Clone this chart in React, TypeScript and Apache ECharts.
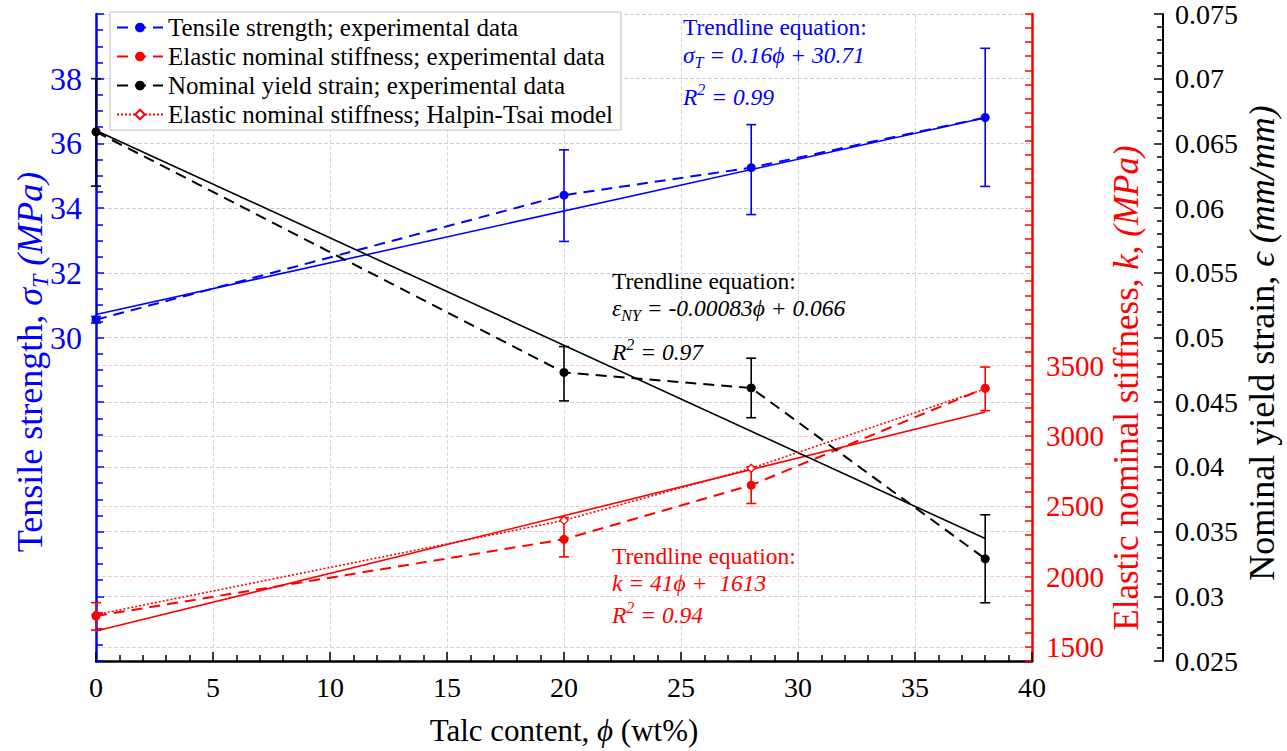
import React, { useEffect, useRef } from "react";
import * as echarts from "echarts";

const FONT = "'Liberation Serif', 'Times New Roman', serif";
const BLUE = "#0000ff";
const RED = "#ff0000";
const BLACK = "#000000";

// ---- data ----
const talc = [0, 20, 28, 38];
const tensileMean = [30.55, 34.4, 35.25, 36.8];
const tensileLow = [30.45, 32.97, 33.8, 34.67];
const tensileHigh = [30.65, 35.8, 36.58, 38.94];
const stiffMean = [1720, 2265, 2650, 3340];
const stiffLow = [1620, 2140, 2520, 3180];
const stiffHigh = [1815, 2420, 2780, 3490];
const strainMean = [0.0659, 0.0473, 0.0461, 0.0329];
const strainLow = [0.0617, 0.0451, 0.0438, 0.0295];
const strainHigh = [0.07, 0.0493, 0.0484, 0.0363];
const halpinTsai = [1730, 2400, 2770, 3335];
const trendX = [0, 38];
const tensileTrend = [30.71, 36.79];
const stiffTrend = [1613, 3171];
const strainTrend = [0.066, 0.03446];
const legendNames = [
  "Tensile strength; experimental data",
  "Elastic nominal stiffness; experimental data",
  "Nominal yield strain; experimental data",
  "Elastic nominal stiffness; Halpin-Tsai model",
];

const pairs = (xs: number[], ys: number[]) => xs.map((x, i) => [x, ys[i]]);
const triples = (xs: number[], lo: number[], hi: number[]) => xs.map((x, i) => [x, lo[i], hi[i]]);

function errRender(color: string) {
  return (params: any, api: any) => {
    const x = api.value(0);
    const a = api.coord([x, api.value(1)]);
    const b = api.coord([x, api.value(2)]);
    const w = 5;
    const style = { stroke: color, lineWidth: 1.6 };
    return {
      type: "group",
      children: [
        { type: "line", shape: { x1: a[0], y1: a[1], x2: b[0], y2: b[1] }, style },
        { type: "line", shape: { x1: a[0] - w, y1: a[1], x2: a[0] + w, y2: a[1] }, style },
        { type: "line", shape: { x1: b[0] - w, y1: b[1], x2: b[0] + w, y2: b[1] }, style },
      ],
    };
  };
}

function richSet(color: string, size: number) {
  return {
    n: { fontFamily: FONT, fontSize: size, color, lineHeight: size + 8 },
    i: { fontFamily: FONT, fontSize: size, color, fontStyle: "italic", lineHeight: size + 8 },
    s: { fontFamily: FONT, fontSize: Math.round(size * 0.68), color, fontStyle: "italic", verticalAlign: "bottom", lineHeight: size + 2 },
    p: { fontFamily: FONT, fontSize: Math.round(size * 0.68), color, fontStyle: "italic", verticalAlign: "top", lineHeight: size + 8 },
  };
}

function txt(x: number, y: number, text: string, color: string, size: number, rotate = false) {
  return {
    type: "text",
    x,
    y,
    rotation: rotate ? Math.PI / 2 : 0,
    z: 100,
    style: {
      text,
      rich: richSet(color, size),
      fill: color,
      fontFamily: FONT,
      fontSize: size,
      align: rotate ? "center" : "left",
      verticalAlign: "middle",
      textAlign: rotate ? "center" : "left",
      textVerticalAlign: "middle",
    },
  };
}

const TICK_FS = 28;

export default function App() {
  const ref = useRef<HTMLDivElement>(null);
  useEffect(() => {
    if (!ref.current) return;
    const chart = echarts.init(ref.current, null, { renderer: "svg" });
    const redGridColors = Array.from({ length: 47 }, (_, i) => {
      const v = 1400 + i * 100;
      return v % 500 === 0 && v >= 1500 && v <= 3500 ? "#f6caca" : "rgba(0,0,0,0)";
    });
    const blackGridColors = Array.from({ length: 11 }, (_, i) => (i >= 5 ? "#c9c9ec" : "#d4d4d4"));
    const option: any = {
      animation: false,
      backgroundColor: "#fff",
      textStyle: { fontFamily: FONT },
      grid: { left: 96, right: 255, top: 11, bottom: 80, containLabel: false },
      legend: {
        data: legendNames,
        orient: "vertical",
        left: 110,
        top: 12,
        itemGap: 4,
        itemWidth: 46,
        itemHeight: 12,
        padding: [3, 8, 3, 6],
        borderColor: "#c0c0c0",
        borderWidth: 1,
        backgroundColor: "#fff",
        textStyle: { fontFamily: FONT, fontSize: 25, color: "#000" },
        z: 50,
      },
      xAxis: {
        type: "value",
        min: 0,
        max: 40,
        interval: 5,
        name: "{n|Talc content, }{i|ϕ}{n| (wt%)}",
        nameLocation: "middle",
        nameGap: 50,
        nameTextStyle: { rich: richSet(BLACK, 31) },
        axisLine: { show: true, onZero: false, lineStyle: { color: BLACK, width: 2.5 } },
        axisTick: { inside: true, length: 9, lineStyle: { color: BLACK, width: 1.5 } },
        minorTick: { show: true, splitNumber: 5, length: 6, lineStyle: { color: BLACK, width: 1.5 } },
        axisLabel: { fontFamily: FONT, fontSize: TICK_FS, color: BLACK, margin: 12 },
        splitLine: { show: true, lineStyle: { color: "#d8d8d8", type: "dashed", width: 1 } },
      },
      yAxis: [
        {
          type: "value",
          position: "left",
          min: 20,
          max: 40,
          interval: 2,
          axisLine: { show: true, lineStyle: { color: BLUE, width: 2.5 } },
          axisTick: { inside: true, length: 8, lineStyle: { color: BLUE, width: 1.5 } },
          minorTick: { show: true, splitNumber: 4, length: 7, lineStyle: { color: BLUE, width: 1.5 } },
          axisLabel: {
            fontFamily: FONT,
            fontSize: 32,
            color: BLUE,
            margin: 14,
            formatter: (v: number) => (v >= 30 && v <= 38 ? String(v) : ""),
          },
          splitLine: { show: false },
        },
        {
          type: "value",
          position: "right",
          min: 1400,
          max: 6000,
          interval: 100,
          axisLine: { show: true, lineStyle: { color: RED, width: 2.5 } },
          axisTick: { inside: true, length: 7, lineStyle: { color: RED, width: 1.5 } },
          axisLabel: {
            fontFamily: FONT,
            fontSize: 29,
            color: RED,
            margin: 14,
            formatter: (v: number) => (v % 500 === 0 && v >= 1500 && v <= 3500 ? String(v) : ""),
          },
          splitLine: { show: true, lineStyle: { color: redGridColors, type: "dashed", width: 1 } },
        },
        {
          type: "value",
          position: "right",
          offset: 131,
          min: 0.025,
          max: 0.075,
          interval: 0.005,
          axisLine: { show: true, lineStyle: { color: BLACK, width: 2 } },
          axisTick: { inside: true, length: 9, lineStyle: { color: BLACK, width: 1.5 } },
          minorTick: { show: true, splitNumber: 5, length: 6, lineStyle: { color: BLACK, width: 1.5 } },
          axisLabel: {
            fontFamily: FONT,
            fontSize: TICK_FS,
            color: BLACK,
            margin: 12,
            formatter: (v: number) => String(Number(v.toFixed(3))),
          },
          splitLine: { show: true, lineStyle: { color: blackGridColors, type: "dashed", width: 1 } },
        },
      ],
      series: [
        // error bars
        { type: "custom", yAxisIndex: 0, silent: true, z: 2, renderItem: errRender(BLUE), encode: { x: 0, y: [1, 2] }, data: triples(talc, tensileLow, tensileHigh) },
        { type: "custom", yAxisIndex: 1, silent: true, z: 2, renderItem: errRender(RED), encode: { x: 0, y: [1, 2] }, data: triples(talc, stiffLow, stiffHigh) },
        { type: "custom", yAxisIndex: 2, silent: true, z: 2, renderItem: errRender(BLACK), encode: { x: 0, y: [1, 2] }, data: triples(talc, strainLow, strainHigh) },
        // trendlines
        { type: "line", yAxisIndex: 0, symbol: "none", z: 3, silent: true, lineStyle: { color: BLUE, width: 1.6 }, data: pairs(trendX, tensileTrend) },
        { type: "line", yAxisIndex: 1, symbol: "none", z: 3, silent: true, lineStyle: { color: RED, width: 1.6 }, data: pairs(trendX, stiffTrend) },
        { type: "line", yAxisIndex: 2, symbol: "none", z: 3, silent: true, lineStyle: { color: BLACK, width: 1.6 }, data: pairs(trendX, strainTrend) },
        // model
        {
          name: legendNames[3],
          type: "line",
          yAxisIndex: 1,
          z: 4,
          symbol: "diamond",
          symbolSize: 8,
          itemStyle: { color: "#fff", borderColor: RED, borderWidth: 1.3 },
          lineStyle: { color: RED, width: 1.6, type: [2, 2] },
          data: pairs(talc, halpinTsai),
        },
        // experimental
        {
          name: legendNames[0],
          type: "line",
          yAxisIndex: 0,
          z: 5,
          symbol: "circle",
          symbolSize: 9,
          itemStyle: { color: BLUE },
          lineStyle: { color: BLUE, width: 2, type: [11, 7] },
          data: pairs(talc, tensileMean),
        },
        {
          name: legendNames[1],
          type: "line",
          yAxisIndex: 1,
          z: 5,
          symbol: "circle",
          symbolSize: 9,
          itemStyle: { color: RED },
          lineStyle: { color: RED, width: 2, type: [11, 7] },
          data: pairs(talc, stiffMean),
        },
        {
          name: legendNames[2],
          type: "line",
          yAxisIndex: 2,
          z: 5,
          symbol: "circle",
          symbolSize: 9,
          itemStyle: { color: BLACK },
          lineStyle: { color: BLACK, width: 2, type: [11, 7] },
          data: pairs(talc, strainMean),
        },
      ],
      graphic: [
        txt(30, 362, "{n|Tensile strength, }{i|σ}{s|T}{n| }{i|(MPa)}", BLUE, 36, true),
        txt(1126, 388, "{n|Elastic nominal stiffness, }{i|k}{n|, }{i|(MPa)}", RED, 35, true),
        txt(1262, 343, "{n|Nominal yield strain, }{i|ϵ}{n| }{i|(mm/mm)}", BLACK, 36, true),
        txt(683, 27, "{n|Trendline equation:}", BLUE, 23.5),
        txt(683, 55, "{i|σ}{s|T}{i| = 0.16ϕ + 30.71}", BLUE, 23.5),
        txt(683, 97, "{i|R}{p|2}{i| = 0.99}", BLUE, 23.5),
        txt(612, 281, "{n|Trendline equation:}", BLACK, 23.5),
        txt(612, 308, "{i|ε}{s|NY}{i| = -0.00083ϕ + 0.066}", BLACK, 23.5),
        txt(612, 352, "{i|R}{p|2}{i| = 0.97}", BLACK, 23.5),
        txt(612, 556, "{n|Trendline equation:}", RED, 23.5),
        txt(612, 583, "{i|k = 41ϕ +  1613}", RED, 23.5),
        txt(612, 615, "{i|R}{p|2}{i| = 0.94}", RED, 23.5),
      ],
    };
    chart.setOption(option);
    return () => chart.dispose();
  }, []);
  return <div ref={ref} style={{ width: 1287, height: 751, position: "absolute", left: 0, top: 0 }} />;
}
